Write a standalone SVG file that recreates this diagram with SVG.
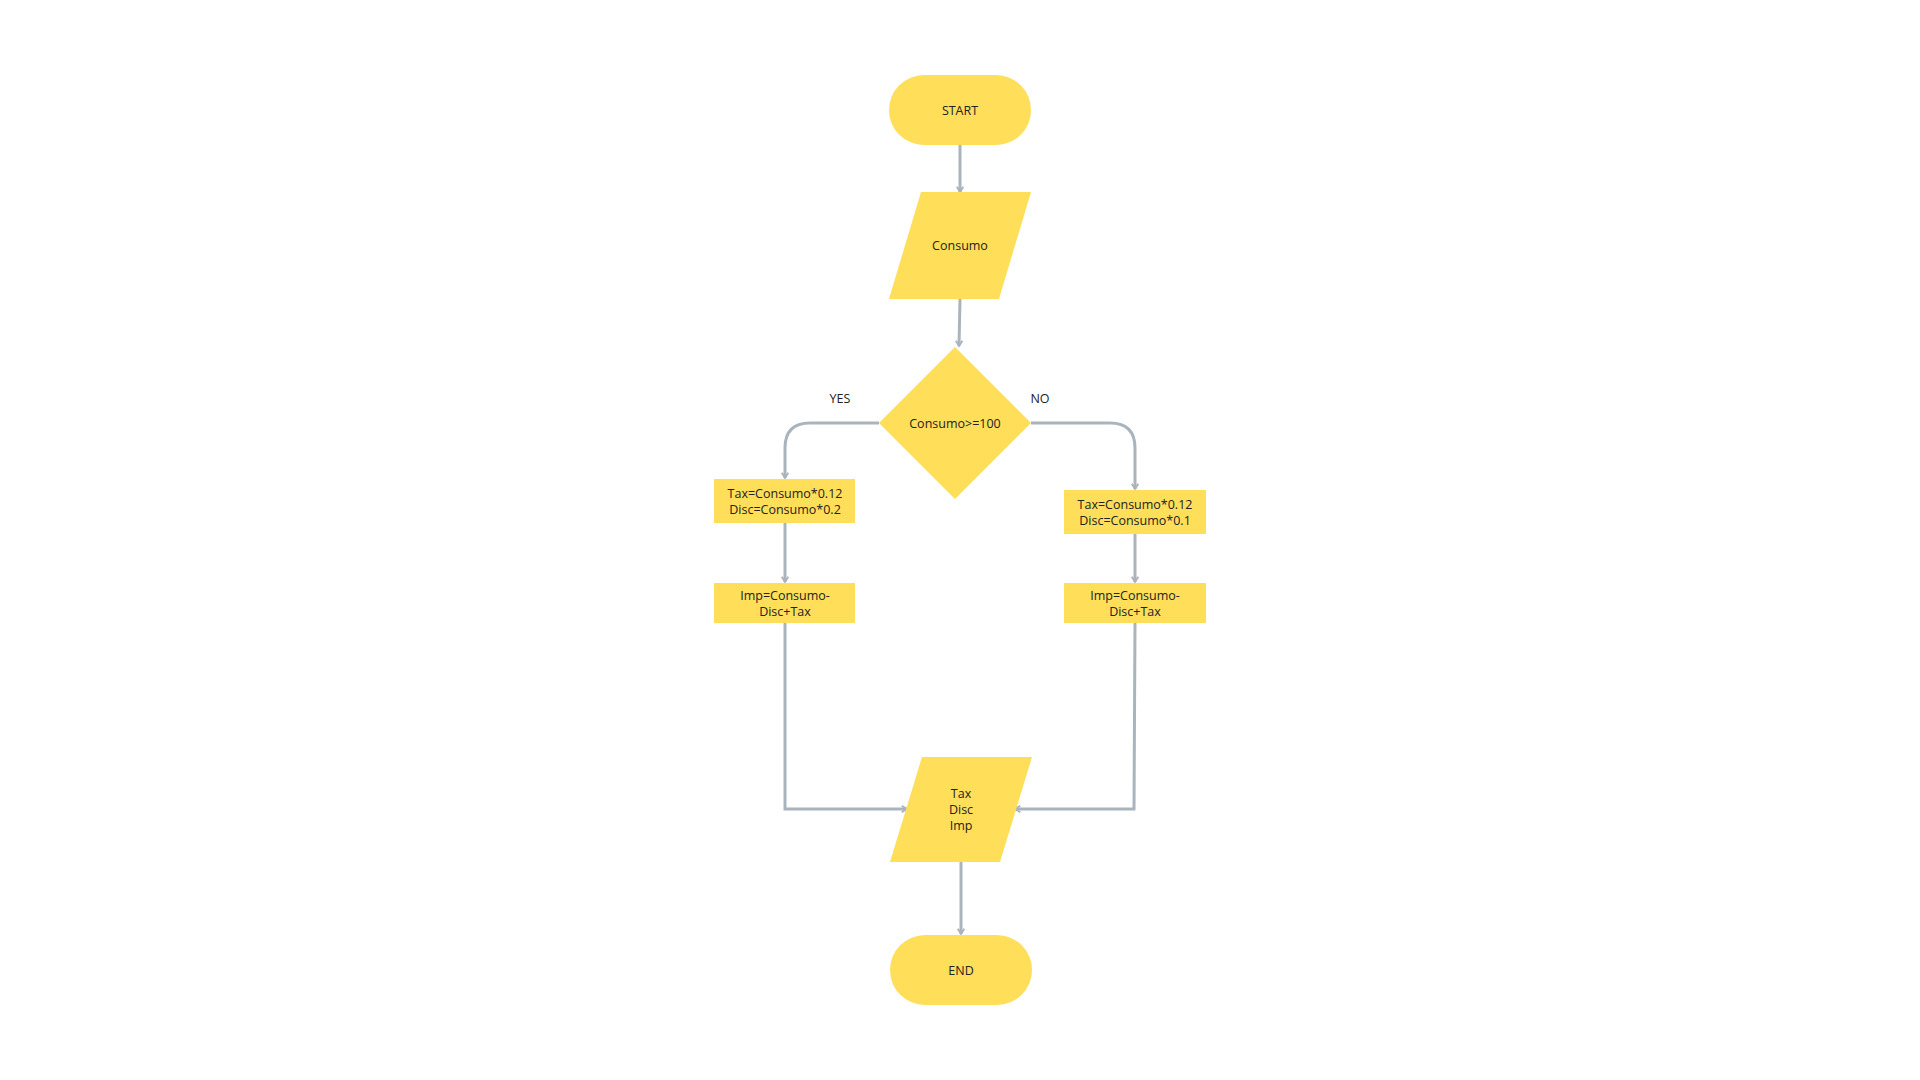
<svg xmlns="http://www.w3.org/2000/svg" width="1920" height="1080" viewBox="0 0 1920 1080">
<style>
.n{fill:#FFDE59}
text{font-family:"Open Sans","Liberation Sans",sans-serif;font-size:12.5px;fill:#222;text-anchor:middle;dominant-baseline:central}
.c{fill:none;stroke:#a9b4bd;stroke-width:3;marker-end:url(#a)}
</style>
<defs><marker id="a" viewBox="0 0 10 10" refX="8" refY="5" markerWidth="5" markerHeight="5" orient="auto" markerUnits="userSpaceOnUse" overflow="visible"><path d="M0,0L8,5L0,10" fill="none" stroke="#a9b4bd" stroke-width="3" transform="scale(1.3) translate(-2,-1.2)"/></marker></defs>
<rect width="1920" height="1080" fill="#fff"/>
<g id="connectors">
<path class="c" d="M960,145V192"/>
<path class="c" d="M960,299L959,346"/>
<path class="c" d="M879,423H810Q785,423 785,448V478"/>
<path class="c" d="M1031,423H1110Q1135,423 1135,448V489"/>
<path class="c" d="M785,523V582"/>
<path class="c" d="M1135,534V582"/>
<path class="c" d="M785,623V809H907"/>
<path class="c" d="M1135,623L1134,809H1015"/>
<path class="c" d="M961,862V934"/>
</g>
<g id="start"><rect class="n" x="889" y="75" width="142" height="70" rx="35"/><text x="960" y="110">START</text></g>
<g id="input"><polygon class="n" points="921,192 1031,192 999,299 889,299"/><text x="960" y="245">Consumo</text></g>
<g id="decision"><polygon class="n" points="955,347 1031,423 955,499 879,423"/><text x="955" y="423">Consumo&gt;=100</text></g>
<text x="840" y="398">YES</text><text x="1040" y="398">NO</text>
<g id="yes1"><rect class="n" x="714" y="479" width="141" height="44"/><text x="785" y="493">Tax=Consumo*0.12</text><text x="785" y="509">Disc=Consumo*0.2</text></g>
<g id="no1"><rect class="n" x="1064" y="490" width="142" height="44"/><text x="1135" y="504">Tax=Consumo*0.12</text><text x="1135" y="520">Disc=Consumo*0.1</text></g>
<g id="yes2"><rect class="n" x="714" y="583" width="141" height="40"/><text x="785" y="595">Imp=Consumo-</text><text x="785" y="611">Disc+Tax</text></g>
<g id="no2"><rect class="n" x="1064" y="583" width="142" height="40"/><text x="1135" y="595">Imp=Consumo-</text><text x="1135" y="611">Disc+Tax</text></g>
<g id="output"><polygon class="n" points="922,757 1032,757 1000,862 890,862"/><text x="961" y="793">Tax</text><text x="961" y="809">Disc</text><text x="961" y="825">Imp</text></g>
<g id="end"><rect class="n" x="890" y="935" width="142" height="70" rx="35"/><text x="961" y="970">END</text></g>
</svg>
